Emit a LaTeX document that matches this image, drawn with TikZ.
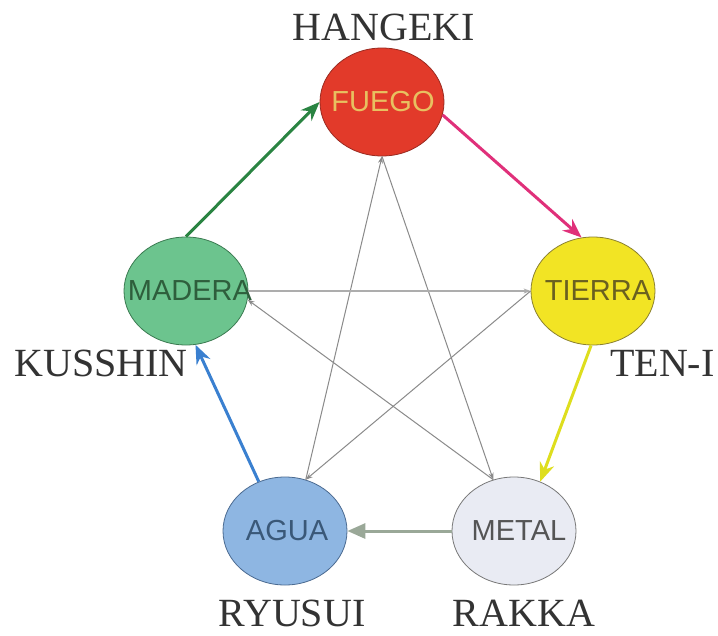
\documentclass[tikz,border=0pt]{standalone}
\usepackage{fontspec}
\setmainfont{Liberation Serif}
\newfontfamily\nodefont{Liberation Sans}
\usetikzlibrary{shapes.geometric,arrows.meta}
\definecolor{fuegofill}{HTML}{E23A2A}
\definecolor{fuegodraw}{HTML}{9A2A20}
\definecolor{fuegotext}{HTML}{E8C060}
\definecolor{maderafill}{HTML}{6CC48E}
\definecolor{maderadraw}{HTML}{3A7A50}
\definecolor{maderatext}{HTML}{2E5E3C}
\definecolor{tierrafill}{HTML}{F2E424}
\definecolor{tierradraw}{HTML}{8A8030}
\definecolor{tierratext}{HTML}{6A6020}
\definecolor{aguafill}{HTML}{8EB6E2}
\definecolor{aguadraw}{HTML}{4A6A90}
\definecolor{aguatext}{HTML}{3A5878}
\definecolor{metalfill}{HTML}{E9EBF3}
\definecolor{metaldraw}{HTML}{777777}
\definecolor{metaltext}{HTML}{555555}
\definecolor{labelgray}{HTML}{333333}
\definecolor{woodarrow}{HTML}{2A8442}
\definecolor{firearrow}{HTML}{E0307A}
\definecolor{eartharrow}{HTML}{DEDE1E}
\definecolor{metalarrow}{HTML}{9AA898}
\definecolor{waterarrow}{HTML}{3A80D0}
\definecolor{stargray}{HTML}{8A8A8A}
\newcommand{\eltext}[2][0pt]{\makebox[0pt]{\hspace*{#1}#2}}
\tikzset{
  element/.style={ellipse, minimum width=124pt, minimum height=108pt, inner sep=0pt,
    line width=0.8pt, font=\nodefont\fontsize{29}{29}\selectfont},
  phase/.style={font=\fontsize{40}{40}\selectfont, text=labelgray, inner sep=0pt, anchor=base},
  cycle/.style={line width=3pt, -{Stealth[length=19pt,width=15pt]}},
  control/.style={line width=1pt, draw=stargray, -{Stealth[length=7pt,width=5pt]}}
}
\begin{document}
\begin{tikzpicture}[x=1pt,y=-1pt]
\useasboundingbox[fill=white] (0,0) rectangle (718,635);
\node[element, fill=fuegofill, draw=fuegodraw, text=fuegotext] (fuego) at (382,102) {\eltext[2pt]{FUEGO}};
\node[element, fill=maderafill, draw=maderadraw, text=maderatext] (madera) at (186,291) {\eltext[8pt]{MADERA}};
\node[element, fill=tierrafill, draw=tierradraw, text=tierratext] (tierra) at (593,291) {\eltext[10pt]{TIERRA}};
\node[element, fill=aguafill, draw=aguadraw, text=aguatext] (agua) at (285,531) {\eltext[4pt]{AGUA}};
\node[element, fill=metalfill, draw=metaldraw, text=metaltext] (metal) at (514,531) {\eltext[10pt]{METAL}};

\node[phase] (hangeki) at (384,40) {HANGEKI};
\node[phase] (kusshin) at (101,376) {KUSSHIN};
\node[phase, anchor=base west] (teni) at (610,376) {TEN-I};
\node[phase] (ryusui) at (292,626) {RYUSUI};
\node[phase] (rakka) at (524,626) {RAKKA};

% control (star) lines
\draw[control] (agua.68) -- (fuego.south);
\draw[control] (fuego.south) -- (metal.112);
\draw[control, line width=1.6pt, draw=stargray!70] (madera.east) -- (tierra.west);
\draw[control] (metal.112) -- (madera.-8);
\draw[control] (tierra.west) -- (agua.68);

% generating cycle
\draw[cycle, draw=woodarrow] (madera.north) -- (fuego.west);
\draw[cycle, draw=firearrow] (fuego.-12) -- (tierra.102);
\draw[cycle, draw=eartharrow] (tierra.-92) -- (metal.62);
\draw[cycle, draw=metalarrow, -{Triangle[length=18pt,width=15pt]}] (metal.west) -- (agua.east);
\draw[cycle, draw=waterarrow] (agua.118) -- (madera.-80);
\end{tikzpicture}
\end{document}
